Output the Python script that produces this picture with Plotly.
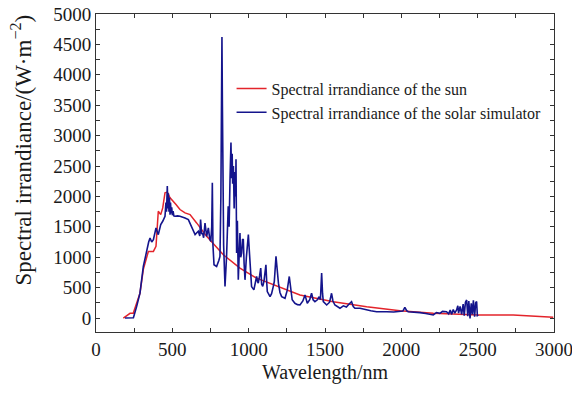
import plotly.graph_objects as go

sun_wl = [179, 201, 223, 244, 266, 288, 310, 321, 343, 376, 393, 408, 424, 437, 452, 467, 485,
          524, 550, 583, 616, 659, 725, 834, 943, 1052, 1161, 1270, 1336, 1554, 1773, 1991,
          2209, 2504, 2733, 2995]
sun_val = [0, 38, 77, 77, 243, 408, 800, 903, 1095, 1095, 1178, 1756, 1700, 1810, 2060, 2070, 1977,
           1866, 1784, 1729, 1700, 1564, 1343, 1040, 821, 655, 545, 434, 380, 269, 187, 121,
           77, 50, 50, 12]

sim_wl = [190, 245, 266, 288, 310, 332, 345, 354, 365, 376, 393, 408, 424, 437, 447, 452, 458,
          462, 467, 471, 474, 478, 481, 485, 488, 492, 496, 500, 505, 510, 517, 535, 550, 570,
          583, 605, 627, 649, 670, 680, 685, 692, 698, 705, 714, 720, 725, 736, 745, 752, 758,
          762, 766, 773, 790, 805, 812, 818, 822, 825, 828, 832, 836, 845, 855, 866, 872, 878,
          884, 888, 892, 895, 900, 905, 910, 914, 917, 921, 926, 932, 937, 943, 948, 954, 960,
          965, 970, 976, 985, 990, 998, 1002, 1008, 1014, 1019, 1034, 1045, 1052, 1058, 1063,
          1072, 1079, 1085, 1092, 1100, 1113, 1118, 1122, 1140, 1150, 1161, 1168, 1179, 1186,
          1195, 1205, 1216, 1238, 1252, 1266, 1275, 1285, 1303, 1320, 1336, 1355, 1369, 1384,
          1400, 1412, 1422, 1434, 1450, 1462, 1470, 1478, 1484, 1489, 1511, 1530, 1543, 1552,
          1565, 1598, 1620, 1640, 1658, 1674, 1685, 1696, 1729, 1760, 1773, 1800, 1838, 1870,
          1904, 1950, 1991, 2010, 2023, 2035, 2045, 2080, 2122, 2160, 2209, 2230, 2252, 2270,
          2296, 2310, 2320, 2330, 2340, 2350, 2362, 2370, 2375, 2385, 2395, 2405, 2412, 2420,
          2428, 2435, 2442, 2450, 2458, 2465, 2472, 2480, 2487, 2493, 2498, 2504]
sim_val = [0, 5, 187, 408, 848, 1123, 1250, 1316, 1250, 1288, 1481, 1371, 1536, 1591, 1650, 1673, 1900,
           1750, 2169, 1800, 2050, 1750, 1980, 1700, 1900, 1720, 1820, 1690, 1760, 1680, 1673, 1680, 1673, 1660,
           1646, 1618, 1508, 1371, 1426, 1350, 1618, 1380, 1398, 1320, 1563, 1360, 1343, 1481, 1300, 1260, 1500,
           2225, 1200, 876, 848, 950, 1013, 2000, 3000, 4620, 3500, 2200, 1200, 517, 1000, 1838, 1500, 2300,
           2885, 2300, 2700, 2208, 2500, 1800, 2400, 2000, 2610, 1068, 1600, 628, 1100, 1399, 1000, 1068, 1300,
           1288, 900, 628, 1000, 1150, 1371, 1200, 958, 700, 517, 462, 600, 683, 600, 573,
           700, 820, 560, 520, 600, 876, 600, 435, 352, 400, 517, 600, 1013, 750,
           573, 420, 352, 324, 450, 683, 450, 300, 242, 220, 215, 280, 380, 242,
           300, 407, 300, 269, 300, 350, 300, 738, 400, 269, 214, 260, 407, 280,
           214, 160, 200, 180, 230, 269, 190, 160, 160, 140, 132, 120, 104, 110,
           104, 100, 104, 115, 176, 120, 104, 100, 88, 75, 50, 90, 77, 110,
           104, 70, 130, 60, 140, 80, 132, 200, 80, 190, 60, 230, 40, 260,
           297, 30, 280, -6, 240, 60, 290, 20, 250, 270, 40, 50]

y_title = "Spectral irrandiance/(W·m<sup>−2</sup>)"

fig = go.Figure()
fig.add_trace(go.Scatter(x=sun_wl, y=sun_val, mode="lines", name="Spectral irrandiance of the sun",
                         line=dict(color="#e3242b", width=1.5)))
fig.add_trace(go.Scatter(x=sim_wl, y=sim_val, mode="lines", name="Spectral irrandiance of the solar simulator",
                         line=dict(color="#14148c", width=1.6)))

axis_common = dict(showline=True, linecolor="#333333", linewidth=1, mirror="ticks",
                   ticks="inside", ticklen=4, tickcolor="#333333", showgrid=False, zeroline=False,
                   automargin=False,
                   tickfont=dict(family="Liberation Serif", size=19, color="#1a1a1a"))

fig.update_xaxes(range=[0, 3000], dtick=500, title_text="Wavelength/nm", title_standoff=6,
                 ticklabeloverflow="allow",
                 title_font=dict(family="Liberation Serif", size=20, color="#1a1a1a"),
                 minor=dict(ticks="inside", dtick=250, ticklen=4, tickcolor="#333333"), **axis_common)
fig.update_yaxes(range=[-230, 5000], dtick=500,
                 minor=dict(ticks="inside", dtick=250, ticklen=4, tickcolor="#333333"), **axis_common)

fig.add_annotation(text=y_title, textangle=-90, xref="paper", yref="paper",
                   x=-0.163, y=0.572, xanchor="center", yanchor="middle", showarrow=False,
                   font=dict(family="Liberation Serif", size=23, color="#1a1a1a"))

fig.update_layout(width=572, height=397, margin=dict(l=96, r=18, t=14, b=65),
                  plot_bgcolor="white", paper_bgcolor="white",
                  legend=dict(x=0.296, y=0.819, xanchor="left", yanchor="top",
                              bgcolor="rgba(0,0,0,0)", borderwidth=0,
                              font=dict(family="Liberation Serif", size=16, color="#1a1a1a"),
                              tracegroupgap=0, itemwidth=30))

fig.write_html("out.html")
